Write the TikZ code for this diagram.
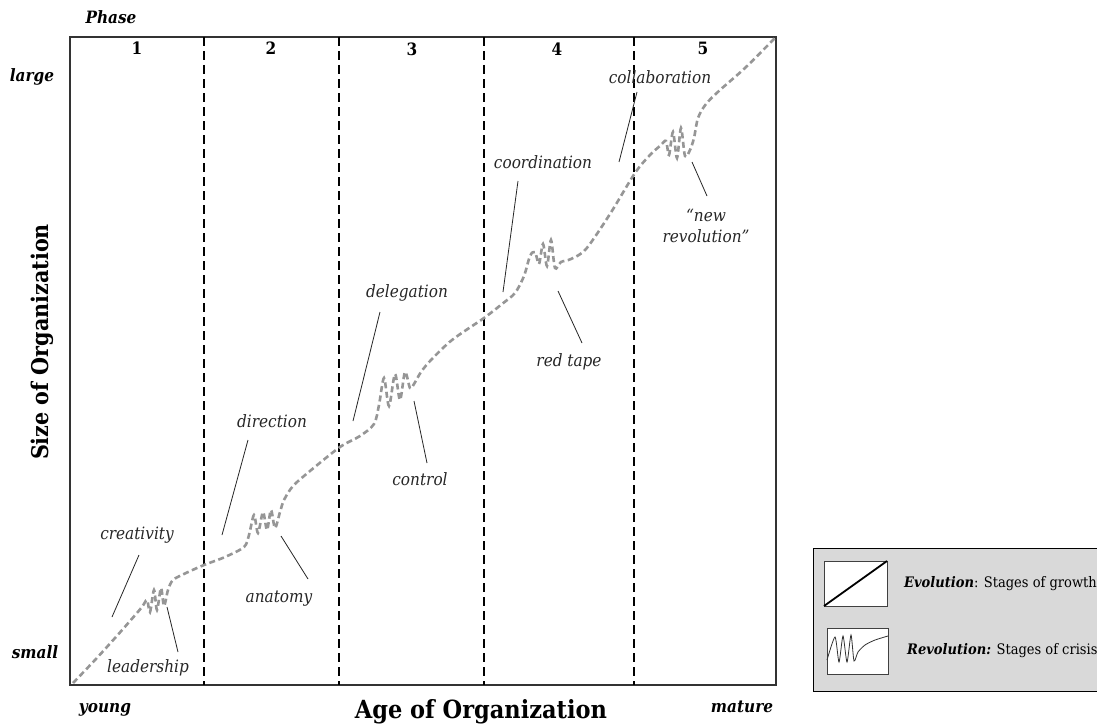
\documentclass[tikz,border=0pt]{standalone}
\usepackage{fontspec}
\setmainfont{DejaVu Serif Condensed}
\begin{document}
\begin{tikzpicture}[x=1pt,y=-1pt,
  lbl/.style={font=\fontsize{17}{21}\selectfont\itshape, inner sep=0pt, text=black!85},
  bi/.style={font=\fontsize{17}{20}\selectfont\bfseries\itshape, inner sep=0pt},
  phasenum/.style={font=\fontsize{17}{20}\selectfont\bfseries, inner sep=0pt},
  axis/.style={font=\fontsize{25}{28}\selectfont\bfseries, inner sep=0pt},
  divider/.style={line width=1.8pt, dash pattern=on 9pt off 5pt},
  growth/.style={line width=2.6pt, color={rgb,255:red,150;green,150;blue,150}, dash pattern=on 6pt off 3.5pt},
  leader/.style={line width=0.8pt, black!85},
  legtext/.style={font=\fontsize{14.5}{17}\selectfont, inner sep=0pt, anchor=west},
  icon/.style={draw=black!75, fill=white, line width=1pt}]
\clip (0,0) rectangle (1097,725);
\fill[white] (0,0) rectangle (1097,725);

% frame of the chart
\coordinate (tl) at (70,37);
\coordinate (br) at (776,685);
\draw[line width=1.2pt, black!80] (tl) rectangle (br);

% phase dividers
\foreach \x/\n in {204/a,339/b,484/c,634/d}{
  \coordinate (top\n) at (\x,37);
  \coordinate (bot\n) at (\x,685);
  \draw[divider] (top\n) -- (bot\n);
}

% phase numbers and axis words
\node[bi] (phase) at (111,17) {Phase};
\node[phasenum] (p1) at (137,48) {1};
\node[phasenum] (p2) at (271,48) {2};
\node[phasenum] (p3) at (412,49) {3};
\node[phasenum] (p4) at (557,49) {4};
\node[phasenum] (p5) at (703,48) {5};
\node[bi] (large) at (32,77) {large};
\node[bi] (small) at (35,652) {small};
\node[bi] (young) at (105,710) {young};
\node[bi] (mature) at (742,707) {mature};
\node[axis] (xlab) at (481,712) {Age of Organization};
\node[axis, rotate=90, font=\fontsize{23}{26}\selectfont\bfseries] (ylab) at (42,342) {Size of Organization};

% growth curve with its crises
\draw[growth] plot[smooth, tension=0.5] coordinates {
  (73,683) (95,660) (115,638) (130,621) (142,607)
  (147,600) (150,612) (154,590) (157,610) (161,588) (164,606) (168,590)
  (173,580) (186,573) (204,565) (225,557) (244,547)
  (249,535) (254,515) (258,533) (263,512) (267,530) (271,510) (275,528) (280,512)
  (284,500) (293,486) (310,471) (340,447) (360,436) (374,424)
  (379,405) (384,378) (389,406) (395,374) (400,400) (405,372) (410,388) (414,384)
  (421,372) (431,360) (452,340) (484,318) (502,304) (515,293) (524,276)
  (530,256) (535,252) (539,264) (543,244) (547,266) (551,240) (555,268) (561,262)
  (571,259) (586,249) (610,214) (635,173) (650,155) (661,145)
  (666,141) (669,155) (673,132) (677,158) (681,128) (685,156) (690,150)
  (694,138) (698,118) (706,104) (720,90) (745,68) (775,38)};

% stage labels with leader lines
\node[lbl] (creativity) at (137,535) {creativity};
\coordinate (creA) at (139,555); \coordinate (creB) at (112,617);
\draw[leader] (creA) -- (creB);

\node[lbl] (leadership) at (148,668) {leadership};
\coordinate (leaA) at (167,607); \coordinate (leaB) at (178,652);
\draw[leader] (leaA) -- (leaB);

\node[lbl] (direction) at (272,421) {direction};
\coordinate (dirA) at (248,440); \coordinate (dirB) at (222,535);
\draw[leader] (dirA) -- (dirB);

\node[lbl] (anatomy) at (279,599) {anatomy};
\coordinate (anaA) at (281,536); \coordinate (anaB) at (308,579);
\draw[leader] (anaA) -- (anaB);

\node[lbl] (delegation) at (407,293) {delegation};
\coordinate (delA) at (380,312); \coordinate (delB) at (353,421);
\draw[leader] (delA) -- (delB);

\node[lbl] (control) at (420,479) {control};
\coordinate (conA) at (414,401); \coordinate (conB) at (427,463);
\draw[leader] (conA) -- (conB);

\node[lbl] (coordination) at (543,162) {coordination};
\coordinate (cooA) at (518,181); \coordinate (cooB) at (503,292);
\draw[leader] (cooA) -- (cooB);

\node[lbl] (redtape) at (569,362) {red tape};
\coordinate (redA) at (558,291); \coordinate (redB) at (582,343);
\draw[leader] (redA) -- (redB);

\node[lbl] (collaboration) at (660,77) {collaboration};
\coordinate (colA) at (637,92); \coordinate (colB) at (619,162);
\draw[leader] (colA) -- (colB);

\node[lbl, align=center] (newrev) at (706,226) {\textquotedblleft new\\revolution\textquotedblright};
\coordinate (newA) at (692,162); \coordinate (newB) at (707,196);
\draw[leader] (newA) -- (newB);

% legend
\draw[fill={rgb,255:red,217;green,217;blue,217}, line width=1pt] (813,548) rectangle (1110,691);
\draw[icon] (824,561) rectangle (887,606);
\coordinate (evoA) at (824,606); \coordinate (evoB) at (887,561);
\draw[line width=1.8pt] (evoA) -- (evoB);
\node[legtext] (evotext) at (904,584) {\textbf{\textit{Evolution}}: Stages of growth};

\draw[icon] (827,628) rectangle (888,674);
\draw[line width=0.8pt, black!80] plot[smooth, tension=0.4] coordinates {
  (827,660) (835,637) (839,662) (843,636) (847,662) (851,635) (854,661)
  (858,652) (865,645) (875,640) (888,636)};
\node[legtext] (revtext) at (907,651) {\textbf{\textit{Revolution:}} Stages of crisis};
\end{tikzpicture}
\end{document}
